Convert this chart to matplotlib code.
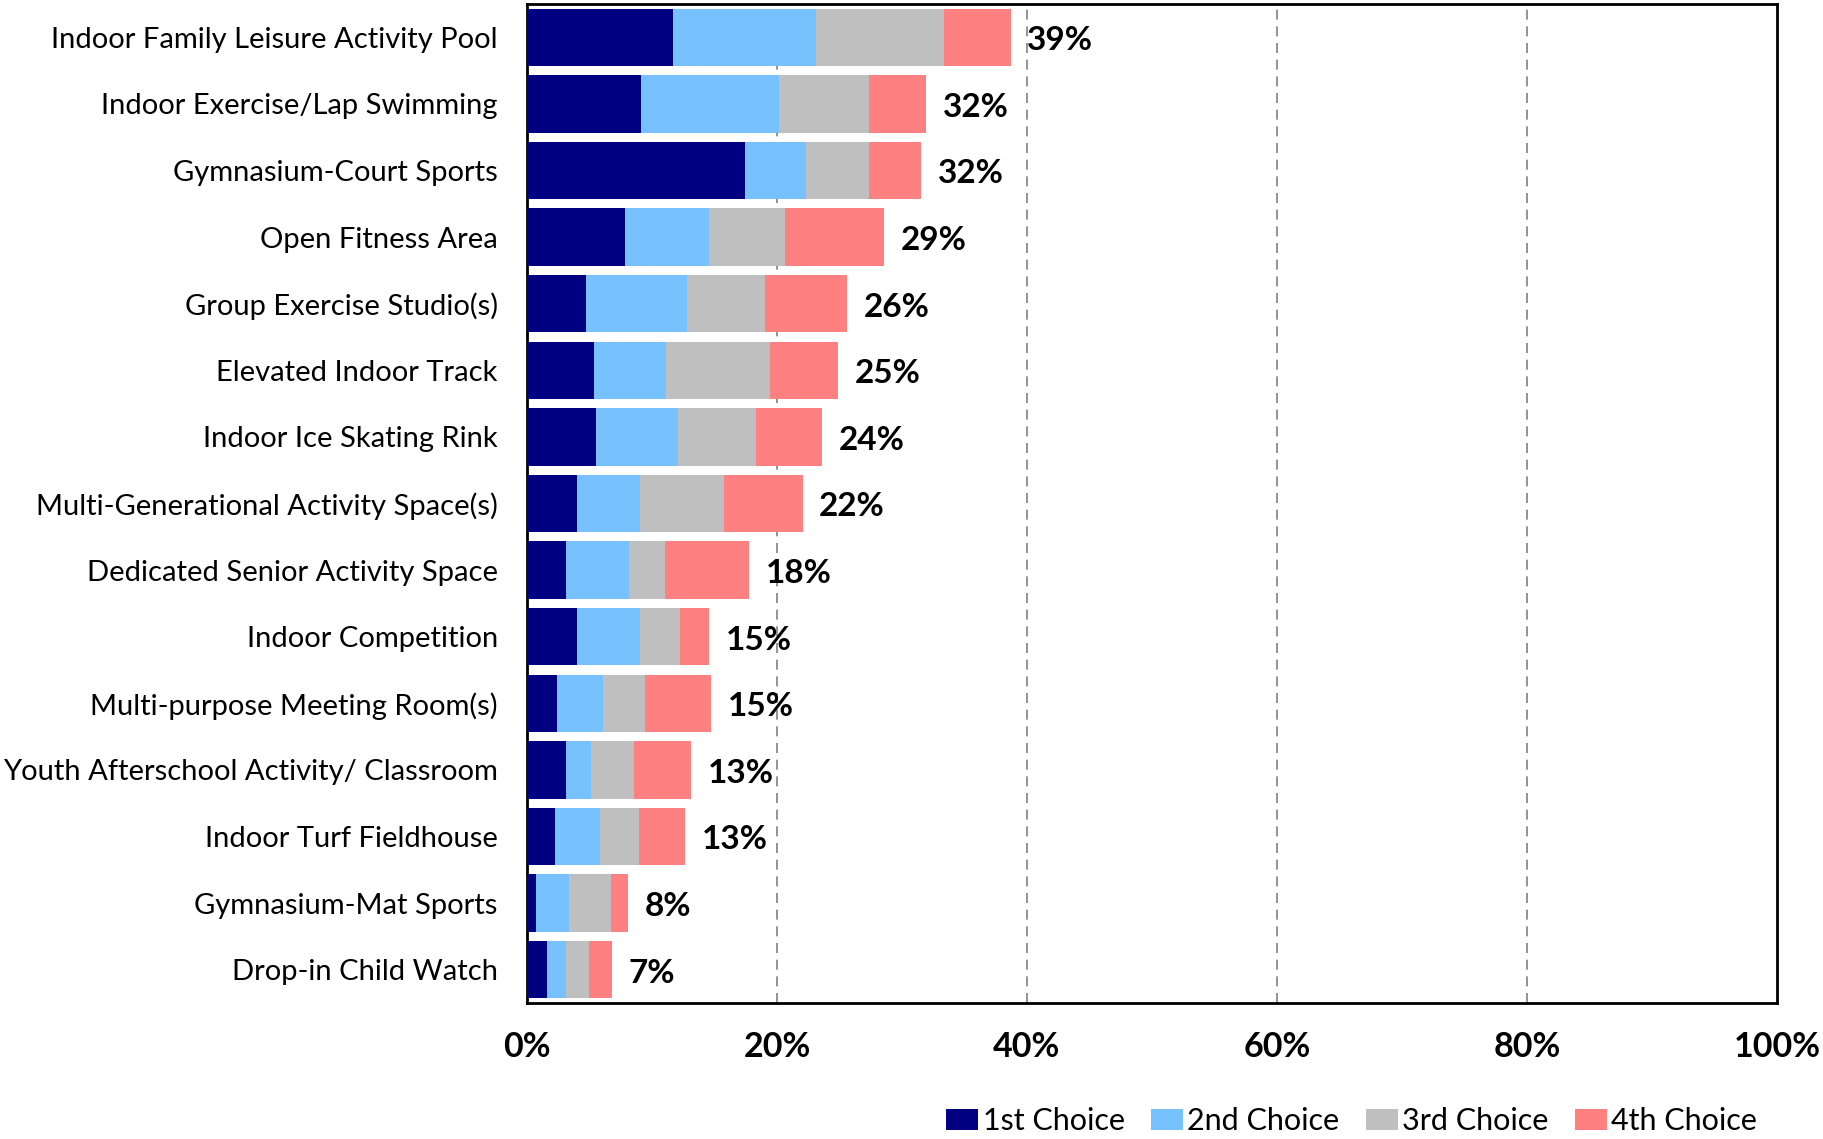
import matplotlib
matplotlib.use("Agg")
import matplotlib.pyplot as plt
import numpy as np

plt.rcParams['font.family'] = ['Lato', 'DejaVu Sans']

categories = [
    "Indoor Family Leisure Activity Pool",
    "Indoor Exercise/Lap Swimming",
    "Gymnasium-Court Sports",
    "Open Fitness Area",
    "Group Exercise Studio(s)",
    "Elevated Indoor Track",
    "Indoor Ice Skating Rink",
    "Multi-Generational Activity Space(s)",
    "Dedicated Senior Activity Space",
    "Indoor Competition",
    "Multi-purpose Meeting Room(s)",
    "Youth Afterschool Activity/ Classroom",
    "Indoor Turf Fieldhouse",
    "Gymnasium-Mat Sports",
    "Drop-in Child Watch",
]

first_choice = [11.7, 9.1, 17.45, 7.85, 4.7, 5.4, 5.55, 4.0, 3.15, 4.0, 2.4, 3.15, 2.25, 0.7, 1.6]
second_choice = [11.4, 11.05, 4.9, 6.7, 8.1, 5.75, 6.55, 5.05, 5.0, 5.05, 3.7, 2.0, 3.6, 2.7, 1.55]
third_choice = [10.3, 7.2, 5.0, 6.1, 6.25, 8.3, 6.25, 6.7, 2.9, 3.2, 3.35, 3.45, 3.1, 3.35, 1.8]
fourth_choice = [5.3, 4.6, 4.2, 7.9, 6.55, 5.45, 5.25, 6.3, 6.7, 2.3, 5.3, 4.55, 3.7, 1.35, 1.85]

series_names = ["1st Choice", "2nd Choice", "3rd Choice", "4th Choice"]
colors = ["#000080", "#78C1FF", "#BFBFBF", "#FF8080"]
xticks = [0, 20, 40, 60, 80, 100]

fig = plt.figure(figsize=(18.24, 11.39), dpi=100)
ax = fig.add_axes([0.2889, 0.1194, 0.6853, 0.8771])

y = np.arange(len(categories))
left = np.zeros(len(categories))
for vals, name, col in zip([first_choice, second_choice, third_choice, fourth_choice], series_names, colors):
    ax.barh(y, vals, left=left, height=0.86, color=col, label=name, zorder=3)
    left = left + np.array(vals)

# total labels
for yi, tot in zip(y, left):
    ax.annotate(f"{tot:.0f}%", (tot, yi), xytext=(12, -2.5), textcoords="offset points",
                va="center", ha="left", fontsize=24, fontweight="bold")

ax.set_xlim(0, 100)
ax.set_ylim(len(categories) - 0.5, -0.5)
ax.set_xticks(xticks)
ax.set_xticklabels([f"{t}%" for t in xticks], fontsize=24.5, fontweight="bold")
ax.set_yticks(y)
ax.set_yticklabels(categories, fontsize=21)
ax.tick_params(axis="both", length=0)
ax.tick_params(axis="y", pad=21)
ax.tick_params(axis="x", pad=20)

for xv in xticks[1:-1]:
    ax.axvline(xv, color="#808080", linestyle=(0, (6, 4)), linewidth=1.2, zorder=1)

for s in ax.spines.values():
    s.set_linewidth(2)
    s.set_color("black")

fig.legend(loc="center", bbox_to_anchor=(0.741, 0.0158), ncol=4, frameon=False,
           fontsize=22, handlelength=1.05, handleheight=0.7, handletextpad=0.15,
           columnspacing=0.85, borderpad=0)

fig.savefig("out.png", dpi=100)
